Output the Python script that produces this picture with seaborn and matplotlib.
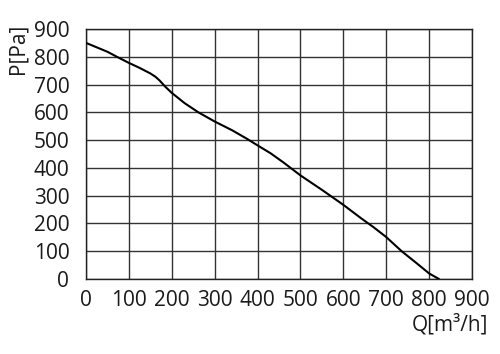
import pandas as pd
import matplotlib
matplotlib.use("Agg")
import matplotlib.pyplot as plt
import seaborn as sns

# Fan curve: airflow Q [m3/h] vs static pressure P [Pa]
flow = [0, 25, 50, 72, 100, 125, 150, 162, 172, 185, 200, 230, 262, 300, 340, 375, 400, 430,
        460, 500, 550, 600, 642, 670, 700, 736, 770, 800, 823]
pressure = [850, 834, 818, 800, 778, 760, 740, 728, 714, 692, 670, 633, 600, 567, 536, 505, 481, 453,
            420, 373, 321, 267, 218, 187, 151, 100, 58, 20, 0]

ticks = list(range(0, 1000, 100))

sns.set_theme(style="white")
plt.rcParams['font.family'] = ['Open Sans', 'DejaVu Sans']

df = pd.DataFrame({"Q": flow, "P": pressure})

fig, ax = plt.subplots(figsize=(5, 3.54), dpi=100)
fig.subplots_adjust(left=86/500, right=472/500, top=1 - 29/354, bottom=1 - 279/354)

sns.lineplot(data=df, x="Q", y="P", color="black", linewidth=1.5, ax=ax, zorder=3)

ax.set_xlim(0, 900)
ax.set_ylim(0, 900)
ax.set_xticks(ticks)
ax.set_yticks(ticks)
ax.grid(True, color="#333333", linewidth=1.0)
for s in ax.spines.values():
    s.set_color("#222222")
    s.set_linewidth(1.0)

ax.tick_params(axis="both", length=0, labelsize=15, colors="#1a1a1a")
ax.tick_params(axis="x", pad=8)
ax.tick_params(axis="y", pad=12)

ax.set_xlabel("Q[m³/h]", fontsize=15, color="#1a1a1a")
ax.set_ylabel("P[Pa]", fontsize=15, color="#1a1a1a")
ax.xaxis.set_label_coords(0.943, -0.14)
ax.yaxis.set_label_coords(-0.15, 0.92)

plt.savefig("out.png", dpi=100)
